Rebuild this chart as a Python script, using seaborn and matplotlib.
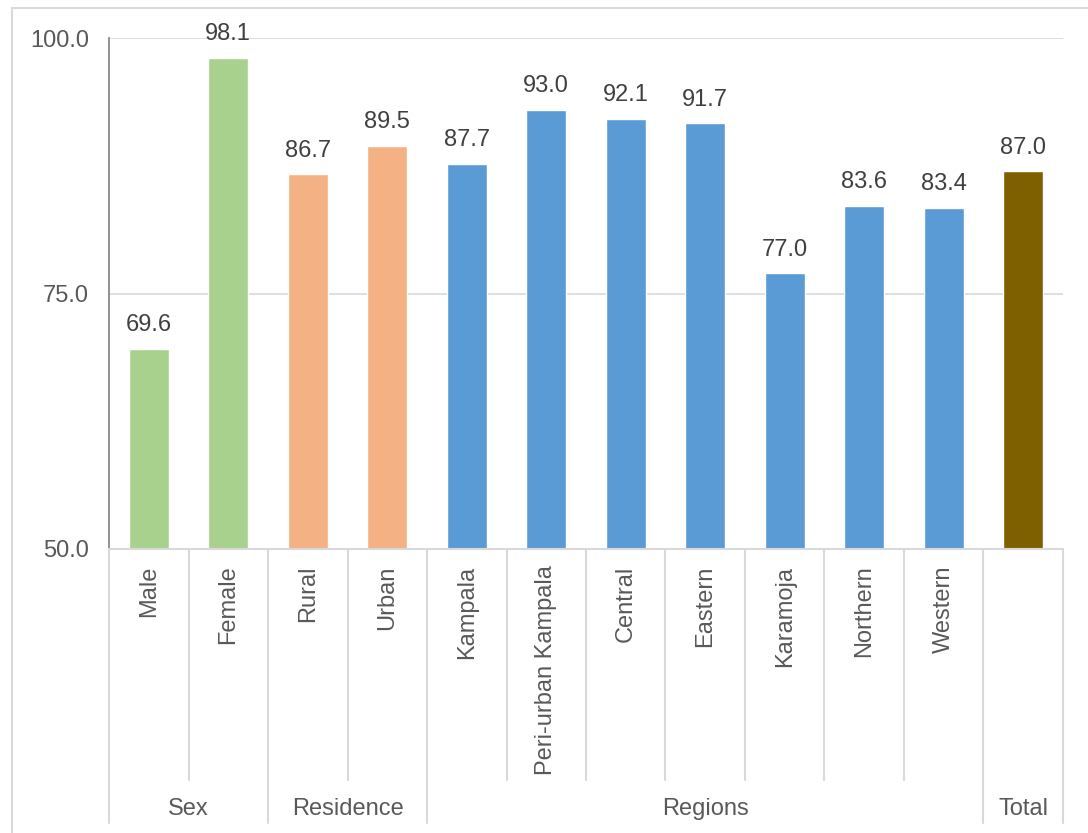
import numpy as np
import pandas as pd
import matplotlib.pyplot as plt
import matplotlib.transforms as mtransforms
from matplotlib.patches import Rectangle
import seaborn as sns

# Data
categories = ['Male', 'Female', 'Rural', 'Urban', 'Kampala', 'Peri-urban Kampala',
              'Central', 'Eastern', 'Karamoja', 'Northern', 'Western', '']
values = [69.6, 98.1, 86.7, 89.5, 87.7, 93.0, 92.1, 91.7, 77.0, 83.6, 83.4, 87.0]
groups = ['Sex', 'Sex', 'Residence', 'Residence', 'Regions', 'Regions', 'Regions',
          'Regions', 'Regions', 'Regions', 'Regions', 'Total']
group_colors = {'Sex': '#A9D18E', 'Residence': '#F4B183',
                'Regions': '#5B9BD5', 'Total': '#7F6000'}

df = pd.DataFrame({'cat': [f'c{i}' for i in range(len(values))],
                   'value': values, 'group': groups})
palette = {c: group_colors[g] for c, g in zip(df['cat'], df['group'])}

sns.set_style('white')
plt.rcParams['font.family'] = ['Liberation Sans', 'DejaVu Sans']
fs = 17

fig = plt.figure(figsize=(10.88, 8.33), dpi=100)
ax = fig.add_axes([0.1002, 0.341, 0.8768, 0.613])

sns.barplot(data=df, x='cat', y='value', hue='cat', palette=palette,
            width=0.5, legend=False, ax=ax, saturation=1)

ax.set_ylim(50, 100)
ax.set_xlim(-0.5, len(values) - 0.5)
ax.set_yticks([50, 75, 100])
ax.set_yticklabels([f'{v:.1f}' for v in [50, 75, 100]])
ax.yaxis.grid(True, color='#D9D9D9', linewidth=1.2)
ax.set_axisbelow(True)
ax.tick_params(axis='y', direction='inout', length=11, width=1.2, color='#7F7F7F',
               labelsize=fs, labelcolor='#595959', pad=9)
ax.set_xticks(range(len(categories)))
ax.set_xticklabels(categories, rotation=90, va='top')
ax.tick_params(axis='x', length=0, labelsize=fs, labelcolor='#595959', pad=12)
ax.set_xlabel('')
ax.set_ylabel('')

for s in ['top', 'right']:
    ax.spines[s].set_visible(False)
ax.spines['left'].set_color('#7F7F7F')
ax.spines['left'].set_linewidth(1.2)
ax.spines['bottom'].set_color('#D9D9D9')
ax.spines['bottom'].set_linewidth(1.5)

for cont in ax.containers:
    ax.bar_label(cont, fmt='%.1f', padding=9, fontsize=fs, color='#404040')

# multi-level category axis
trans = mtransforms.blended_transform_factory(ax.transData, ax.transAxes)
long_edges = [-0.5, 1.5, 3.5, 10.5, 11.5]
for i in range(len(values) + 1):
    xe = i - 0.5
    y_end = -0.536 if xe in long_edges else -0.452
    ax.plot([xe, xe], [0, y_end], color='#D9D9D9', linewidth=1.5,
            transform=trans, clip_on=False)

group_names = ['Sex', 'Residence', 'Regions', 'Total']
for g in group_names:
    idx = [i for i, gg in enumerate(groups) if gg == g]
    ax.text(np.mean(idx), -0.509, g, transform=trans, ha='center', va='center',
            fontsize=fs, color='#595959')

# outer chart-area border
fig.patches.append(Rectangle((12 / 1088, -0.1), 1.2, 1 - 8 / 833 + 0.1,
                             transform=fig.transFigure, fill=False,
                             edgecolor='#D9D9D9', linewidth=1.5))

fig.savefig('out.png', dpi=100)
